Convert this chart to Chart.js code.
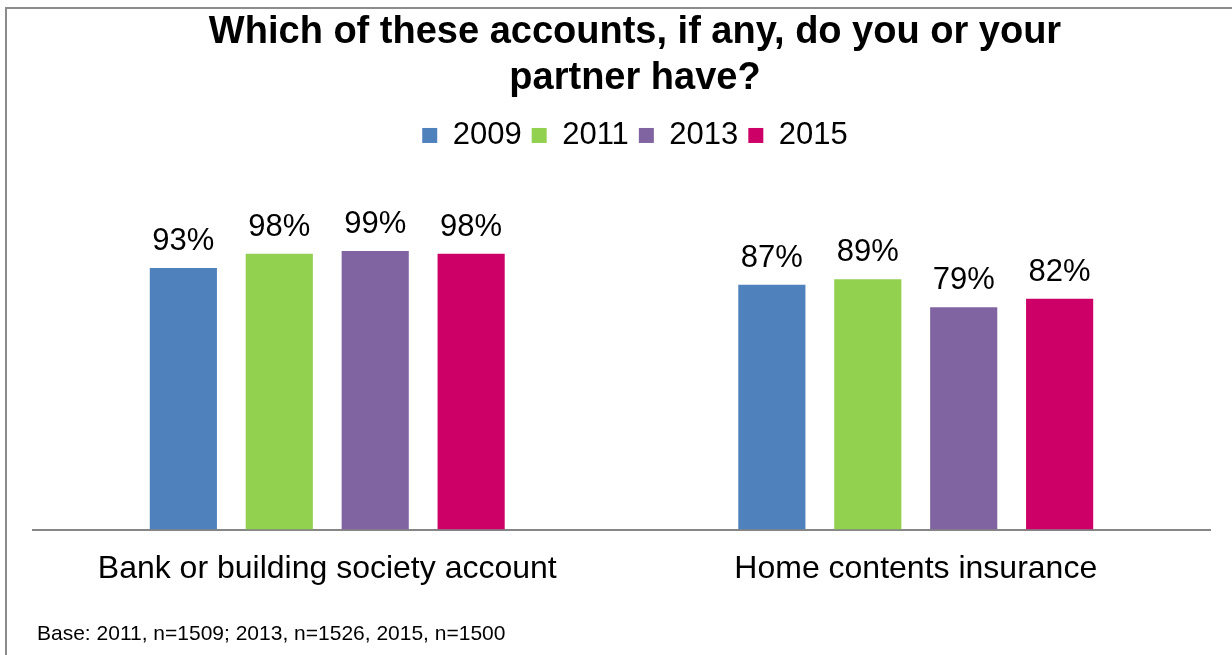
<!DOCTYPE html>
<html>
<head>
<meta charset="utf-8">
<script src="https://cdn.jsdelivr.net/npm/chart.js@4.4.0/dist/chart.umd.min.js"></script>
<style>
  html, body { margin: 0; padding: 0; background: #fff; overflow: hidden; width: 1232px; height: 655px; }
  #frame { position: absolute; left: 5px; top: 7px; width: 1300px; height: 700px;
           border-left: 2px solid #8c8c8c; border-top: 2px solid #8c8c8c; }
  #chart { position: absolute; left: 6px; top: 8px; }
</style>
</head>
<body>
<div id="frame"></div>
<canvas id="chart" width="1258" height="647"></canvas>
<script>
const categories = ['Bank or building society account', 'Home contents insurance'];
const years = ['2009', '2011', '2013', '2015'];
const values2009 = [93, 87];
const values2011 = [98, 89];
const values2013 = [99, 79];
const values2015 = [98, 82];
const seriesColors = ['#4F81BD', '#92D050', '#8064A2', '#CC0066'];
const titleLines = ['Which of these accounts, if any, do you or your', 'partner have?'];
const footnote = 'Base: 2011, n=1509; 2013, n=1526, 2015, n=1500';

const FONT = '"Liberation Sans", Arial, sans-serif';
Chart.defaults.font.family = FONT;
Chart.defaults.color = '#000';

// percentage above every bar
const valueLabels = {
    id: 'valueLabels',
    afterDatasetsDraw(chart) {
        const ctx = chart.ctx;
        ctx.save();
        ctx.font = '31px ' + FONT;
        ctx.fillStyle = '#000';
        ctx.textAlign = 'center';
        ctx.textBaseline = 'alphabetic';
        chart.data.datasets.forEach((ds, i) => {
            chart.getDatasetMeta(i).data.forEach((bar, j) => {
                ctx.fillText(ds.data[j] + '%', bar.x, bar.y - 18);
            });
        });
        ctx.restore();
    }
};

// base note in the bottom left corner
const baseNote = {
    id: 'baseNote',
    afterDraw(chart) {
        const ctx = chart.ctx;
        ctx.save();
        ctx.font = '21px ' + FONT;
        ctx.fillStyle = '#000';
        ctx.textAlign = 'left';
        ctx.textBaseline = 'alphabetic';
        ctx.fillText(footnote, 31, 632);
        ctx.restore();
    }
};

const seriesValues = [values2009, values2011, values2013, values2015];

new Chart(document.getElementById('chart').getContext('2d'), {
    type: 'bar',
    data: {
        labels: categories,
        datasets: years.map((y, i) => ({
            label: y,
            data: seriesValues[i],
            backgroundColor: seriesColors[i],
            borderWidth: 0,
            barPercentage: 0.70,
            categoryPercentage: 0.652
        }))
    },
    options: {
        responsive: false,
        animation: false,
        layout: { padding: { top: 0, left: 0, right: 0, bottom: 47 } },
        plugins: {
            title: {
                display: true,
                text: titleLines,
                color: '#000',
                font: { size: 38, weight: 'bold', lineHeight: 1.21 },
                padding: { top: 2, bottom: 8 }
            },
            legend: {
                position: 'top',
                labels: { boxWidth: 15, boxHeight: 15, padding: 10, color: '#000', font: { size: 31 } }
            },
            tooltip: { enabled: false }
        },
        scales: {
            x: {
                grid: { display: false, drawTicks: false },
                border: { color: '#868686', width: 2 },
                ticks: { color: '#000', font: { size: 32 }, padding: 20, maxRotation: 0, autoSkip: false }
            },
            y: {
                min: 0, max: 131,
                ticks: { display: false },
                grid: { display: false, drawTicks: false },
                border: { display: false },
                afterFit(s) { s.width = 27; }
            },
            yRight: {
                position: 'right',
                ticks: { display: false },
                grid: { display: false, drawTicks: false },
                border: { display: false },
                afterFit(s) { s.width = 54; }
            }
        }
    },
    plugins: [valueLabels, baseNote]
});
</script>
</body>
</html>
